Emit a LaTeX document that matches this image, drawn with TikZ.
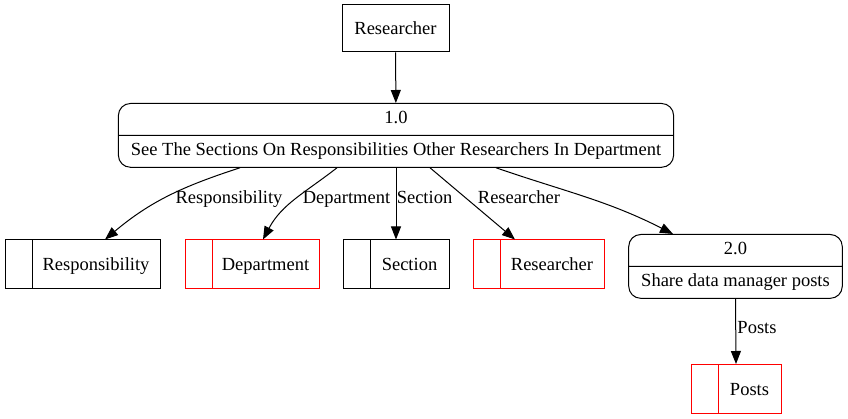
\documentclass[tikz,border=0pt]{standalone}
\usepackage{fontspec}
\setmainfont{Liberation Serif}
\usetikzlibrary{shapes.multipart, arrows.meta}

\tikzset{
  entity/.style = {draw, minimum width=#1, minimum height=47pt, inner sep=0pt,
    text height=13pt, text depth=0pt},
  process/.style = {draw, rectangle split, rectangle split parts=2,
    rounded corners=12pt, inner xsep=12.5pt, inner ysep=7pt,
    text height=13pt, text depth=4pt},
  store/.style 2 args = {draw=#2, minimum width=#1, minimum height=49pt,
    inner sep=0pt, text height=13pt, text depth=0pt,
    path picture={\draw[#2, line width=1pt]
      ([xshift=27pt]path picture bounding box.north west) --
      ([xshift=27pt]path picture bounding box.south west);},
    execute at begin node={\hspace*{27pt}}},
  flow/.style = {-{Triangle[length=13pt, width=10pt]}},
  lbl/.style = {inner sep=0pt, text height=13pt, text depth=4pt},
}

\begin{document}
\begin{tikzpicture}[x=1pt, y=1pt, line width=1pt,
    font=\fontsize{18.5pt}{22pt}\selectfont]
	\useasboundingbox (0,0) rectangle (848,-419);

	% external entity and processes
	\node[entity=107pt] (src) at (395.5,-28.5) {Researcher};
	\node[process, anchor=north] (p1) at (396,-103)
		{1.0 \nodepart{two} See The Sections On Responsibilities Other Researchers In Department};
	\node[process, anchor=north] (p2) at (735.5,-234)
		{2.0 \nodepart{two} Share data manager posts};

	% data stores
	\node[store={155pt}{black}] (sresp) at (82.5,-264.5) {Responsibility};
	\node[store={134pt}{red}] (sdept) at (252,-264.5) {Department};
	\node[store={106pt}{black}] (ssect) at (396,-264.5) {Section};
	\node[store={131pt}{red}] (sres) at (538.5,-264.5) {Researcher};
	\node[store={90pt}{red}] (sposts) at (736,-389) {Posts};

	% flows
	\draw[flow] (src) -- (p1);
	\draw[flow] ([xshift=-156pt]p1.south) to[out=198, in=40] ([xshift=22.5pt]sresp.north);
	\draw[flow] ([xshift=-59pt]p1.south) to[out=218, in=62] ([xshift=11pt]sdept.north);
	\draw[flow] (p1.south) -- (ssect.north);
	\draw[flow] ([xshift=34pt]p1.south) -- ([xshift=-23.5pt]sres.north);
	\draw[flow] ([xshift=100pt]p1.south) to[out=-19, in=153] ([xshift=-62.5pt]p2.north);
	\draw[flow] (p2.south) -- (sposts.north);

	% flow labels
	\node[lbl] (lresp) at (229,-199.5) {Responsibility};
	\node[lbl] (ldept) at (346.5,-199.5) {Department};
	\node[lbl] (lsect) at (424.5,-199.5) {Section};
	\node[lbl] (lres) at (519,-199.5) {Researcher};
	\node[lbl] (lposts) at (757,-329) {Posts};
\end{tikzpicture}
\end{document}
